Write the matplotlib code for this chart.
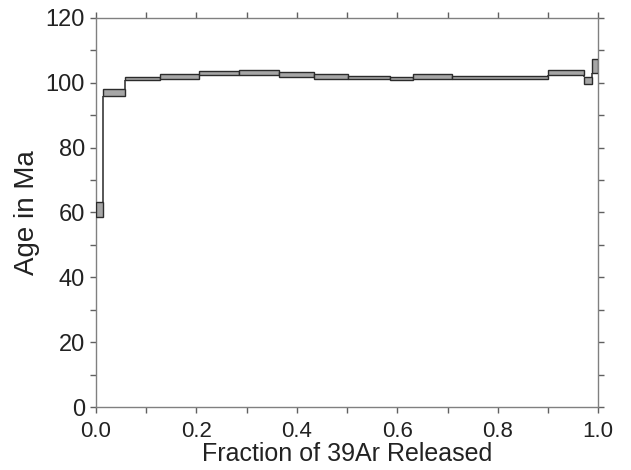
import numpy as np
import matplotlib.pyplot as plt
from matplotlib.ticker import MultipleLocator

plt.rcParams['font.family'] = ['Liberation Sans', 'DejaVu Sans']

# cumulative 39Ar fraction at the end of each heating step
frac_edges = [0.0, 0.0145, 0.057, 0.128, 0.205, 0.284, 0.364, 0.435, 0.501,
              0.586, 0.632, 0.708, 0.900, 0.972, 0.988, 1.0]
# apparent age (Ma) and 1-sigma error for each step
ages = [60.9, 97.0, 101.3, 101.9, 103.1, 103.1, 102.5, 101.9,
        101.7, 101.3, 101.9, 101.6, 103.2, 100.7, 105.05]
errs = [2.4, 1.0, 0.6, 0.7, 0.65, 0.8, 0.7, 0.7,
        0.4, 0.6, 0.65, 0.35, 0.75, 1.2, 2.15]

x_ticks = [0.0, 0.2, 0.4, 0.6, 0.8, 1.0]
y_ticks = [0, 20, 40, 60, 80, 100, 120]

edges = np.array(frac_edges)
ages = np.array(ages)
errs = np.array(errs)
lo = ages - errs
hi = ages + errs

fig = plt.figure(figsize=(6.31, 4.70), dpi=100)
ax = fig.add_axes([0.152, 0.134, 0.796, 0.828])

# boxes for each step
ax.bar(edges[:-1], 2 * errs, bottom=lo, width=np.diff(edges), align='edge',
       color='#a6a6a6', edgecolor='#2b2b2b', linewidth=1.0, zorder=3)

# vertical connectors between neighbouring steps
for i in range(1, len(ages)):
    if lo[i] > hi[i - 1]:
        y0, y1 = hi[i - 1], lo[i]
    elif hi[i] < lo[i - 1]:
        y0, y1 = hi[i], lo[i - 1]
    else:
        continue
    ax.vlines(edges[i], y0, y1, color='#3a3a3a', linewidth=1.2, zorder=2)

ax.set_xlim(0, 1.0)
ax.set_ylim(0, 120)
ax.set_xticks(x_ticks)
ax.set_yticks(y_ticks)
ax.xaxis.set_minor_locator(MultipleLocator(0.1))
ax.yaxis.set_minor_locator(MultipleLocator(10))
ax.set_xticklabels([f"{v:.1f}" for v in x_ticks])

for s in ax.spines.values():
    s.set_color('#808080')
    s.set_linewidth(1.0)

ax.tick_params(which='both', direction='out', top=True, right=True,
               color='#606060', width=1.0, labelsize=17, labelcolor='#222222')
ax.tick_params(which='major', length=4)
ax.tick_params(which='minor', length=4)
ax.tick_params(axis='x', which='major', pad=6, labelsize=16)
ax.tick_params(axis='y', which='major', pad=4)

ax.set_xlabel("Fraction of 39Ar Released", fontsize=18, color='#222222', labelpad=0)
ax.set_ylabel("Age in Ma", fontsize=20, color='#222222', labelpad=4)

fig.savefig("out.png", dpi=100)
